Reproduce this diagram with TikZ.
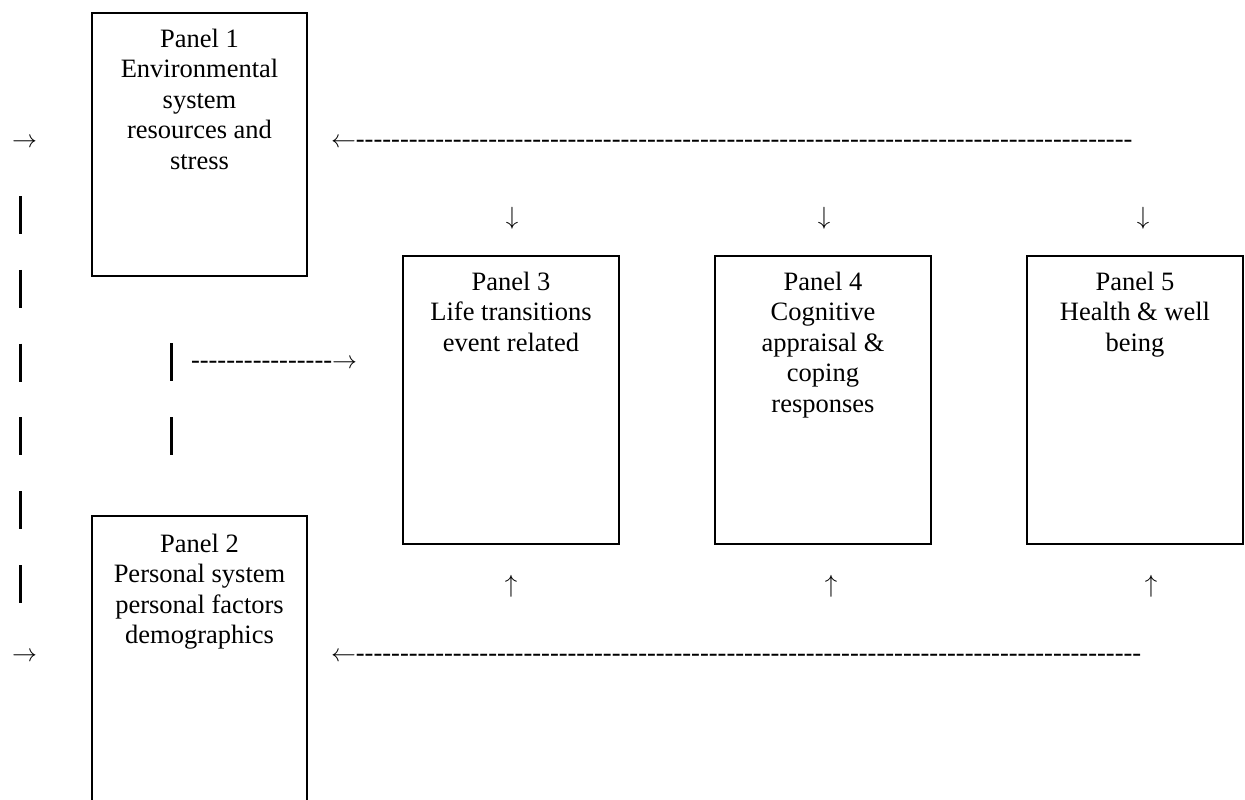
\documentclass[tikz,border=0pt]{standalone}
\usepackage{fontspec}
\setmainfont{Liberation Serif}
\newcount\hycnt
\newcommand\hyphenrun[1]{\hycnt=0\relax\loop\ifnum\hycnt<#1\relax-\kern0pt\advance\hycnt by 1\relax\repeat}
\newcommand\myra{{\fontsize{29}{30}\selectfont$\rightarrow$}}
\newcommand\myla{{\fontsize{29}{30}\selectfont$\leftarrow$}}
\newcommand\myda{{\fontsize{32}{33}\selectfont$\downarrow$}}
\newcommand\myua{{\fontsize{32}{33}\selectfont$\uparrow$}}
\begin{document}
\begin{tikzpicture}[x=1pt,y=-1pt,
  every node/.style={inner sep=0pt,outer sep=0pt},
  txt/.style={font=\fontsize{26.5}{30.5}\selectfont},
  panel/.style={draw,line width=1.5pt,anchor=north west},
  ptext/.style={txt,align=center,anchor=north},
  bars/.style={line width=3.2pt,dash pattern=on 38pt off 35.8pt}]
\clip (0,0) rectangle (1245,800);
% panels
\node[panel,minimum width=215,minimum height=263] (p1) at (92,13) {};
\node[panel,minimum width=215,minimum height=300] (p2) at (92,516) {};
\node[panel,minimum width=216,minimum height=288] (p3) at (403,256) {};
\node[panel,minimum width=216,minimum height=288] (p4) at (715,256) {};
\node[panel,minimum width=216,minimum height=288] (p5) at (1027,256) {};
% panel texts
\node[ptext] (t1) at ([yshift=-14pt]p1.north) {\rule{0pt}{20pt}Panel 1\\Environmental\\system\\resources and\\stress};
\node[ptext] (t2) at ([yshift=-16pt]p2.north) {\rule{0pt}{20pt}Panel 2\\Personal system\\personal factors\\demographics};
\node[ptext] (t3) at ([yshift=-14pt]p3.north) {\rule{0pt}{20pt}Panel 3\\Life transitions\\event related};
\node[ptext] (t4) at ([yshift=-14pt]p4.north) {\rule{0pt}{20pt}Panel 4\\Cognitive\\appraisal \&\\coping\\responses};
\node[ptext] (t5) at ([yshift=-14pt]p5.north) {\rule{0pt}{20pt}Panel 5\\Health \& well\\being};
% arrow glyphs
\node[txt] (la1) at (24.5,143) {\myra};
\node[txt] (la2) at (24.5,657) {\myra};
\node[txt,anchor=west] (ret1) at (331,143) {\myla\hyphenrun{88}};
\node[txt,anchor=west] (ret2) at (331,657) {\myla\hyphenrun{89}};
\node[txt,anchor=west] (mid) at (191,364) {\hyphenrun{16}\myra};
\node[txt] (d3) at (512,218) {\myda};
\node[txt] (d4) at (824,218) {\myda};
\node[txt] (d5) at (1143,218) {\myda};
\node[txt] (u3) at (511,586) {\myua};
\node[txt] (u4) at (831,586) {\myua};
\node[txt] (u5) at (1151,586) {\myua};
% dashed vertical bars
\coordinate (ls) at (20.3,196);
\coordinate (le) at (20.3,603);
\coordinate (ms) at (171.2,343);
\coordinate (me) at (171.2,455);
\draw[bars] (ls) -- (le);
\draw[bars,dash pattern=on 38pt off 36pt] (ms) -- (me);
\end{tikzpicture}
\end{document}
